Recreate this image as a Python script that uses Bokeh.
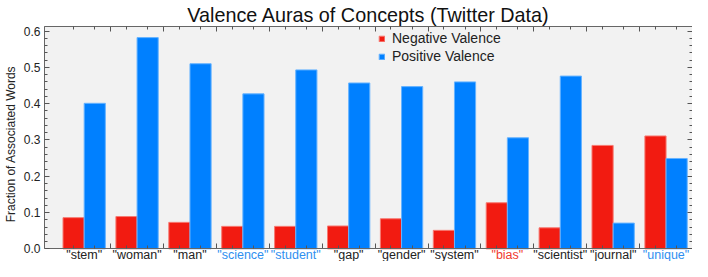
from bokeh.plotting import figure
from bokeh.models import (ColumnDataSource, Range1d, FixedTicker, LinearAxis,
                          Legend, LegendItem, PrintfTickFormatter, BoxAnnotation)
from bokeh.core.properties import value
from bokeh.transform import dodge
from bokeh.embed import file_html
from bokeh.resources import INLINE

categories = ['"stem"', '"woman"', '"man"', '"science"', '"student"', '"gap"',
              '"gender"', '"system"', '"bias"', '"scientist"', '"journal"', '"unique"']
negative = [0.086, 0.089, 0.073, 0.062, 0.062, 0.063, 0.083, 0.051, 0.127, 0.058, 0.285, 0.311]
positive = [0.401, 0.582, 0.510, 0.427, 0.493, 0.457, 0.447, 0.460, 0.306, 0.476, 0.071, 0.249]
label_colors = ["#222222", "#222222", "#222222", "#2f8ff0", "#2f8ff0", "#222222",
                "#222222", "#222222", "#f03a30", "#222222", "#222222", "#2f8ff0"]
y_ticks = [0.0, 0.1, 0.2, 0.3, 0.4, 0.5, 0.6]

FONT = "Liberation Sans"
RED = "#f21b11"
BLUE = "#0080ff"
Y_TOP = 0.6126
Y_BOTTOM = -0.0348     # room for the category labels under the axis
LABEL_Y = -0.0179

n = len(categories)
idx = list(range(n))
src = ColumnDataSource(dict(x=idx, cat=categories, neg=negative, pos=positive,
                            col=label_colors, ly=[LABEL_Y] * n))

xr = Range1d(-0.75, 11.5)
p = figure(width=692, height=261, output_backend="svg", toolbar_location=None,
           x_range=xr, y_range=Range1d(Y_BOTTOM, Y_TOP),
           title="Valence Auras of Concepts (Twitter Data)",
           x_axis_type=None, y_axis_type=None,
           min_border_left=36, min_border_right=0, min_border_top=0,
           min_border_bottom=0)

p.background_fill_color = "white"
p.border_fill_color = "white"
p.outline_line_color = None

# grey plotting area above the zero line
p.add_layout(BoxAnnotation(bottom=0, fill_color="#f2f2f2", fill_alpha=1,
                           line_alpha=0, level="image"))

p.title.text_font = FONT
p.title.text_font_size = "19.8px"
p.title.text_font_style = "normal"
p.title.text_color = "#111111"
p.title.align = "center"
p.title.standoff = 2

r_neg = p.vbar(x=dodge("x", -0.2, range=xr), top="neg", width=0.4, source=src,
               fill_color=RED, line_color="#f77a72", line_width=1)
r_pos = p.vbar(x=dodge("x", 0.2, range=xr), top="pos", width=0.4, source=src,
               fill_color=BLUE, line_color="#66b3ff", line_width=1)

minor_y = [round(i * 0.02, 2) for i in range(31) if i % 5 != 0]
bounds = [i + 0.5 for i in idx[:-1]]
bar_centers = sorted([i - 0.2 for i in idx] + [i + 0.2 for i in idx])


def tick_axis(ticks, length, side, **kw):
    """An axis that draws only inward tick marks (no labels)."""
    ax = LinearAxis(ticker=FixedTicker(ticks=[], minor_ticks=ticks), **kw)
    ax.axis_line_color = "#666666"
    ax.minor_tick_line_color = "#555555"
    ax.minor_tick_out = 0
    ax.minor_tick_in = length
    ax.major_tick_out = 0
    ax.major_tick_in = 0
    ax.major_label_standoff = 0
    p.add_layout(ax, side)
    return ax


yleft = LinearAxis(ticker=FixedTicker(ticks=y_ticks, minor_ticks=minor_y),
                   formatter=PrintfTickFormatter(format="%.1f"),
                   axis_label="Fraction of Associated Words", bounds=(0, Y_TOP))
yleft.axis_line_color = "#666666"
yleft.major_tick_line_color = "#555555"
yleft.minor_tick_line_color = "#555555"
yleft.major_tick_out = 0
yleft.minor_tick_out = 0
yleft.major_tick_in = 5
yleft.minor_tick_in = 3
yleft.major_label_text_font = FONT
yleft.major_label_text_font_size = "12px"
yleft.major_label_text_color = "#222222"
yleft.major_label_standoff = 4
yleft.axis_label_text_font = FONT
yleft.axis_label_text_font_size = "12px"
yleft.axis_label_text_font_style = "normal"
yleft.axis_label_text_color = "#222222"
yleft.axis_label_standoff = 3
p.add_layout(yleft, "left")

# right frame edge
tick_axis(y_ticks, 5, "right", bounds=(0, Y_TOP))
tick_axis(minor_y, 3, "right", bounds=(0, Y_TOP))
# bottom frame edge at zero
tick_axis(bounds, 5, "below", fixed_location=0)
tick_axis(bar_centers, 3, "below", fixed_location=0)
# top frame edge
tick_axis(bounds, 5, "above")
tick_axis(bar_centers, 3, "above")

p.ygrid.ticker = FixedTicker(ticks=y_ticks[1:])
p.ygrid.grid_line_color = "#c4c4c4"
p.ygrid.grid_line_dash = "1 1"
p.xgrid.visible = False

p.text(x="x", y="ly", text="cat", source=src, text_align="center",
       text_baseline="middle", text_color="col", text_font_size="12.5px",
       text_font=value(FONT))

legend = Legend(items=[LegendItem(label="Negative Valence", renderers=[r_neg]),
                       LegendItem(label="Positive Valence", renderers=[r_pos])],
                location=(334, 197))
legend.background_fill_alpha = 0
legend.border_line_alpha = 0
legend.padding = 0
legend.margin = 0
legend.spacing = 2
legend.glyph_width = 7
legend.glyph_height = 7
legend.label_standoff = 7
legend.label_text_font = FONT
legend.label_text_font_size = "14px"
legend.label_text_color = "#222222"
legend.label_height = 15
p.add_layout(legend, "center")

open("out.html", "w").write(file_html(p, INLINE))
